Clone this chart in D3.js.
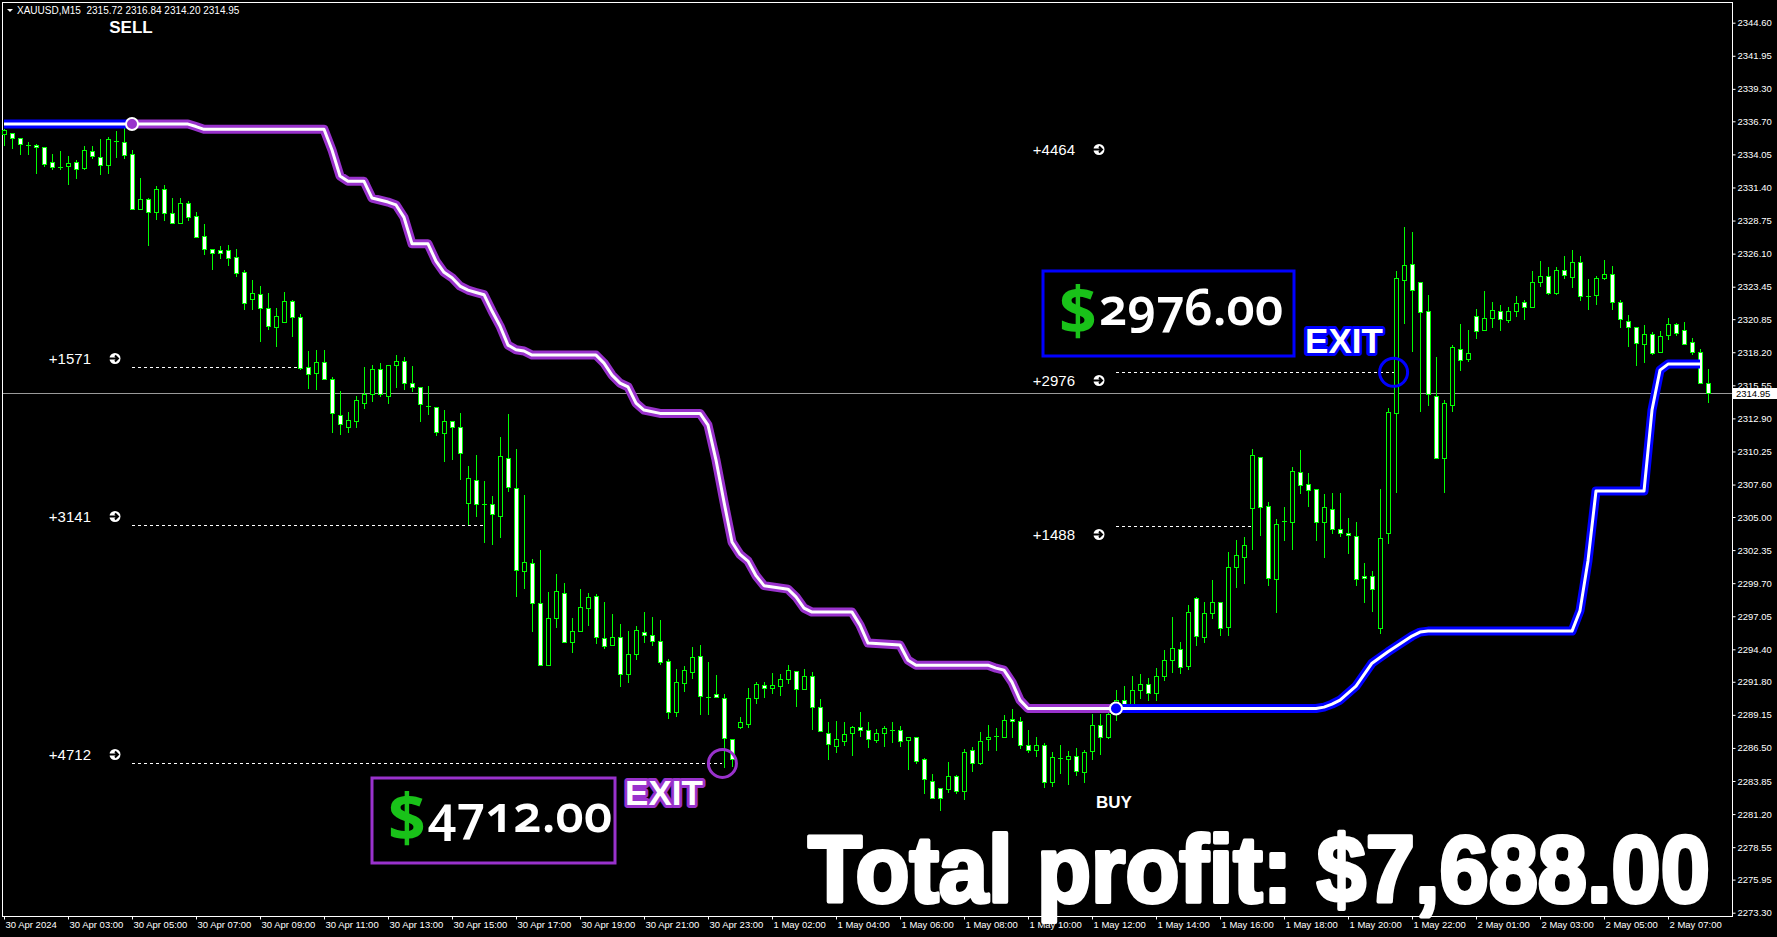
<!DOCTYPE html>
<html>
<head>
<meta charset="utf-8">
<script src="https://cdn.jsdelivr.net/npm/d3@7"></script>
<style>
  html, body { margin: 0; padding: 0; background: #000; overflow: hidden; }
  svg { display: block; }
  text { font-family: "Liberation Sans", Arial, sans-serif; }
</style>
</head>
<body>
<div id="chart"></div>
<script>
// XAUUSD M15 candles, 30 Apr 01:00 -> 2 May 08:15
var opens = [2335.66,2335.74,2335.34,2334.80,2334.80,2334.62,2333.42,2333.06,2333.12,2333.42,2332.93,2334.34,2333.86,2333.20,2335.15,2335.02,2334.06,2329.65,2330.45,2329.46,2331.25,2329.33,2328.53,2330.13,2329.14,2327.53,2326.44,2326.36,2326.36,2325.85,2324.60,2322.44,2322.84,2321.72,2320.24,2320.64,2322.30,2320.99,2316.99,2316.51,2317.39,2316.03,2313.17,2312.23,2312.71,2314.10,2314.82,2316.83,2314.71,2317.15,2317.47,2315.71,2315.43,2313.91,2313.83,2311.70,2312.69,2312.18,2306.09,2307.93,2306.01,2306.01,2305.10,2309.70,2307.29,2300.64,2301.28,2298.08,2293.11,2296.88,2298.88,2294.95,2295.83,2297.68,2298.69,2295.27,2294.71,2295.35,2292.39,2293.99,2295.80,2295.51,2295.03,2293.43,2289.37,2291.67,2292.60,2293.83,2290.59,2290.86,2290.54,2287.18,2288.14,2288.38,2290.54,2291.51,2291.27,2291.47,2291.99,2292.68,2291.23,2292.23,2289.74,2287.66,2286.67,2287.07,2287.66,2288.14,2287.90,2287.13,2287.66,2287.95,2287.90,2287.10,2287.34,2285.58,2283.89,2283.25,2283.22,2284.24,2283.06,2286.30,2285.26,2287.18,2287.42,2287.39,2288.78,2288.65,2286.70,2286.32,2286.70,2283.78,2285.71,2285.58,2285.82,2284.58,2286.22,2288.30,2287.39,2289.21,2290.33,2289.85,2291.13,2291.61,2290.89,2292.25,2293.53,2294.40,2293.10,2298.48,2295.40,2297.32,2298.16,2296.15,2300.96,2301.81,2305.69,2309.78,2305.87,2300.00,2304.67,2304.62,2308.57,2307.61,2307.26,2304.57,2305.61,2304.01,2303.69,2303.47,2300.29,2300.29,2296.07,2303.73,2313.30,2323.96,2325.24,2323.85,2321.47,2314.71,2309.70,2313.94,2318.43,2317.63,2321.12,2319.95,2320.91,2321.47,2320.80,2321.47,2322.25,2321.79,2323.80,2324.33,2322.97,2324.76,2324.25,2325.40,2322.70,2322.81,2324.12,2324.44,2322.20,2320.67,2320.19,2318.88,2319.68,2318.19,2319.55,2320.43,2319.95,2318.99,2318.19,2315.72];
var highs = [2336.08,2335.74,2335.34,2335.07,2334.86,2334.62,2334.06,2334.32,2333.92,2333.60,2334.72,2334.72,2335.26,2335.47,2335.92,2336.14,2334.40,2332.13,2330.53,2331.52,2331.57,2330.53,2330.53,2330.31,2329.41,2328.45,2326.44,2326.71,2326.79,2326.44,2324.78,2323.98,2323.50,2322.97,2321.74,2323.02,2322.38,2321.26,2318.32,2318.37,2318.37,2316.24,2315.09,2313.38,2314.69,2316.99,2317.17,2317.31,2317.15,2317.97,2317.79,2317.09,2315.43,2315.49,2313.83,2313.57,2312.69,2313.30,2309.08,2309.94,2307.88,2306.68,2311.40,2313.25,2310.44,2306.75,2301.63,2302.35,2298.98,2300.43,2299.70,2296.90,2299.22,2298.88,2298.82,2298.18,2297.22,2296.42,2295.86,2296.26,2297.38,2296.98,2296.74,2293.61,2292.81,2293.05,2294.58,2294.74,2293.37,2292.33,2290.81,2287.18,2288.99,2291.27,2291.75,2291.75,2292.47,2292.41,2293.13,2292.68,2292.79,2292.55,2290.39,2288.59,2288.65,2288.57,2288.24,2289.34,2288.57,2288.00,2288.24,2288.57,2288.24,2287.34,2287.34,2285.71,2284.40,2283.25,2285.34,2284.32,2286.38,2286.56,2287.74,2288.30,2288.06,2289.10,2289.58,2288.94,2287.90,2287.34,2286.86,2286.16,2286.70,2286.22,2286.48,2286.30,2289.21,2289.18,2289.53,2291.13,2291.45,2292.25,2292.41,2292.09,2292.89,2294.33,2297.00,2295.00,2297.94,2298.61,2298.20,2299.94,2298.20,2302.17,2303.15,2303.41,2310.42,2309.78,2306.22,2304.81,2305.77,2309.02,2310.36,2308.49,2307.26,2306.83,2306.89,2306.89,2304.89,2304.62,2301.28,2300.66,2307.21,2313.70,2324.73,2328.26,2327.81,2323.85,2322.78,2317.84,2314.37,2318.78,2320.46,2319.98,2321.66,2323.10,2322.20,2321.98,2321.79,2322.70,2322.38,2324.70,2325.51,2325.03,2325.03,2325.90,2326.39,2325.90,2324.06,2324.30,2325.56,2325.10,2322.38,2321.15,2320.19,2320.40,2319.82,2319.87,2320.91,2320.51,2320.62,2319.31,2318.43,2316.84];
var lows = [2334.80,2334.54,2334.06,2334.06,2332.58,2333.12,2332.85,2332.85,2331.65,2332.18,2332.85,2333.78,2332.45,2332.58,2333.86,2333.78,2329.65,2329.65,2326.79,2328.87,2328.79,2328.53,2328.53,2328.79,2327.45,2326.07,2324.86,2325.72,2325.19,2324.33,2321.66,2321.66,2319.12,2320.03,2318.72,2320.64,2319.52,2316.85,2315.35,2315.27,2316.07,2311.80,2311.64,2311.80,2312.23,2313.75,2314.31,2314.69,2314.15,2315.43,2315.25,2315.09,2312.69,2313.25,2311.56,2309.50,2309.64,2308.06,2304.43,2305.07,2303.01,2302.85,2303.41,2307.10,2298.69,2299.33,2295.88,2293.11,2293.11,2296.15,2294.95,2294.20,2295.83,2296.36,2294.87,2294.47,2294.71,2291.47,2291.80,2293.64,2295.00,2294.71,2293.19,2288.89,2289.05,2291.07,2292.07,2289.21,2289.21,2290.59,2284.98,2285.06,2288.06,2288.14,2290.06,2290.59,2290.91,2290.73,2291.67,2289.87,2291.23,2288.00,2287.82,2285.60,2286.18,2286.72,2285.92,2287.44,2286.58,2286.99,2286.67,2286.99,2286.67,2284.80,2285.26,2282.88,2282.45,2281.54,2282.98,2282.88,2282.39,2284.66,2285.20,2286.35,2286.32,2287.39,2287.39,2286.51,2286.18,2285.86,2283.36,2283.46,2284.50,2283.60,2284.32,2283.78,2285.60,2285.98,2287.28,2288.73,2289.37,2289.37,2290.49,2290.33,2290.33,2291.93,2292.57,2292.50,2292.80,2294.74,2294.98,2296.92,2295.54,2295.54,2299.41,2299.68,2302.43,2303.55,2299.54,2297.40,2303.15,2302.43,2306.89,2305.90,2303.15,2301.81,2303.69,2303.47,2302.13,2299.54,2298.20,2297.49,2295.72,2302.89,2307.02,2320.56,2318.32,2313.51,2313.96,2309.70,2306.97,2313.51,2316.80,2317.52,2319.36,2319.95,2320.21,2320.00,2320.64,2321.12,2320.88,2321.79,2323.53,2322.86,2322.89,2324.17,2323.45,2322.40,2321.68,2322.08,2324.04,2321.68,2320.24,2318.72,2317.20,2317.44,2318.05,2318.19,2319.23,2319.58,2318.83,2318.03,2315.71,2314.20];
var closes = [2336.00,2335.34,2334.86,2334.80,2334.62,2333.25,2333.01,2333.06,2333.33,2332.85,2334.40,2333.92,2333.20,2335.26,2335.15,2334.00,2329.65,2330.45,2329.41,2331.25,2329.33,2328.53,2330.13,2329.06,2327.45,2326.44,2326.12,2326.17,2325.77,2324.57,2322.16,2322.92,2321.72,2320.32,2321.10,2322.30,2320.99,2316.96,2316.43,2317.39,2316.07,2313.30,2312.42,2312.77,2314.34,2314.85,2316.83,2314.82,2317.15,2317.47,2315.71,2315.43,2314.02,2313.91,2311.78,2312.69,2312.18,2310.10,2308.09,2306.01,2306.01,2305.21,2309.86,2307.37,2300.72,2301.36,2298.08,2293.11,2296.88,2299.04,2294.95,2295.83,2297.76,2298.56,2295.38,2294.66,2295.35,2292.39,2293.99,2295.91,2295.51,2295.05,2293.37,2289.37,2291.77,2292.71,2293.75,2290.67,2290.59,2290.59,2287.26,2285.58,2288.54,2290.54,2291.59,2291.27,2291.51,2291.99,2292.71,2291.19,2292.23,2289.79,2287.82,2286.78,2287.20,2287.58,2288.14,2287.90,2287.18,2287.66,2288.08,2287.95,2287.07,2287.34,2285.46,2284.02,2282.45,2282.45,2284.24,2283.06,2286.14,2285.31,2287.04,2287.34,2287.42,2288.73,2288.62,2286.75,2286.35,2286.70,2283.78,2285.76,2285.71,2285.82,2284.66,2286.14,2288.30,2287.34,2289.21,2290.33,2289.85,2291.13,2291.61,2290.89,2292.25,2293.53,2294.49,2293.00,2297.36,2295.46,2297.28,2298.16,2296.07,2301.01,2301.92,2302.72,2309.94,2305.77,2300.08,2304.43,2304.67,2308.68,2307.53,2307.13,2304.57,2305.77,2304.01,2303.69,2303.53,2300.00,2300.08,2299.20,2303.33,2313.38,2324.12,2325.16,2323.16,2321.39,2314.85,2309.70,2314.10,2318.64,2317.55,2318.11,2319.87,2320.91,2321.55,2320.83,2321.47,2322.12,2321.79,2323.80,2324.28,2322.92,2324.76,2324.36,2325.40,2322.73,2322.70,2324.12,2324.44,2322.20,2320.88,2320.19,2318.91,2319.63,2318.11,2319.47,2320.43,2319.71,2318.83,2318.19,2315.71,2314.95];

// time axis labels, one every 8 bars
var timeLabels = ["30 Apr 2024","30 Apr 03:00","30 Apr 05:00","30 Apr 07:00","30 Apr 09:00","30 Apr 11:00","30 Apr 13:00","30 Apr 15:00","30 Apr 17:00","30 Apr 19:00","30 Apr 21:00","30 Apr 23:00","1 May 02:00","1 May 04:00","1 May 06:00","1 May 08:00","1 May 10:00","1 May 12:00","1 May 14:00","1 May 16:00","1 May 18:00","1 May 20:00","1 May 22:00","2 May 01:00","2 May 03:00","2 May 05:00","2 May 07:00"];

// price scale labels
var priceTicks = [2344.60,2341.95,2339.30,2336.70,2334.05,2331.40,2328.75,2326.10,2323.45,2320.85,2318.20,2315.55,2312.90,2310.25,2307.60,2305.00,2302.35,2299.70,2297.05,2294.40,2291.80,2289.15,2286.50,2283.85,2281.20,2278.55,2275.95,2273.30];

// trailing stop line (bar index, price)
var prevStopBars = [0, 16];
var prevStopPrices = [2336.48, 2336.48];
var sellStopBars = [16,23,24,25,40,41,42,43,45,46,48,49,50,51,53,54,55,56,57,58,59,60,61,62,63,64,65,66,74,75,76,77,78,79,80,82,87,88,89,90,91,92,93,94,95,98,99,100,101,106,107,108,112,113,114,123,124,125,126,127,128,139];
var sellStopPrices = [2336.48,2336.48,2336.28,2336.06,2336.06,2334.40,2332.32,2331.89,2331.89,2330.55,2330.23,2330.00,2329.00,2326.89,2326.89,2325.50,2324.60,2324.17,2323.50,2323.18,2322.99,2322.81,2321.50,2320.30,2318.77,2318.40,2318.30,2317.97,2317.97,2317.33,2316.37,2315.73,2315.43,2314.13,2313.57,2313.30,2313.30,2312.36,2309.56,2306.20,2303.00,2302.00,2301.47,2300.30,2299.50,2299.22,2298.60,2297.70,2297.38,2297.38,2296.34,2294.90,2294.74,2293.53,2293.13,2293.13,2292.89,2292.73,2291.77,2290.33,2289.66,2289.66];
var buyStopBars = [139,164,165,166,167,169,171,173,175,176,177,178,196,197,198,199,205,206,207,208,212];
var buyStopPrices = [2289.66,2289.66,2289.77,2290.01,2290.33,2291.45,2293.29,2294.20,2295.05,2295.46,2295.78,2295.86,2295.86,2297.50,2301.50,2307.08,2307.08,2313.57,2316.77,2317.25,2317.25];

// trades
var tradeSides = ["SELL", "BUY"];
var entryBars = [16, 139];
var entryPrices = [2336.48, 2289.66];
var exitBars = [89.8, 173.7];
var exitPrices = [2285.26, 2316.59];
var tradeProfits = [4712.00, 2976.00];

// profit levels drawn from each entry
var levelTrade = [0, 0, 0, 1, 1, 1];
var levelLabels = ["+1571", "+3141", "+4712", "+1488", "+2976", "+4464"];
var levelPrices = [2316.99, 2304.33, 2285.26, 2304.27, 2316.59, 2335.16];
var levelEndBars = [37, 60, 89.8, 156, 173.7, null];

var symbolName = "XAUUSD,M15";

var svgWidth = 1777;
var svgHeight = 937;
var plot = { left: 2, top: 2, right: 1732, bottom: 916 };

var purple = "#9932cc";
var blue = "#0000ff";
var lime = "#00ff00";
var money = "#19c219";

var svg = d3.select("#chart")
  .append("svg")
  .attr("width", svgWidth)
  .attr("height", svgHeight)
  .style("background", "#000");

var n = closes.length;

var xScale = d3.scaleLinear()
  .domain([0, n - 1])
  .range([4, 4 + 8 * (n - 1)]);

var yScale = d3.scaleLinear()
  .domain([2273.30, 2344.60])
  .range([912.7, 22.7]);

// frame
svg.append("rect")
  .attr("x", plot.left + 0.5)
  .attr("y", plot.top + 0.5)
  .attr("width", plot.right - plot.left)
  .attr("height", plot.bottom - plot.top)
  .attr("fill", "none")
  .attr("stroke", "#fff")
  .attr("shape-rendering", "crispEdges");

// price axis
var rightAxis = d3.axisRight(yScale)
  .tickValues(priceTicks)
  .tickFormat(d => d.toFixed(2))
  .tickSize(3)
  .tickPadding(2);

var yAxisG = svg.append("g")
  .attr("transform", `translate(${plot.right + 0.5},0)`)
  .call(rightAxis);
yAxisG.select(".domain").remove();
yAxisG.selectAll("line").attr("stroke", "#fff");
yAxisG.selectAll("text")
  .attr("fill", "#fff")
  .style("font-size", "9.5px")
  .style("font-family", "'Liberation Sans', Arial, sans-serif");

// time axis
var timeBars = timeLabels.map((d, i) => i * 8);
var bottomAxis = d3.axisBottom(xScale)
  .tickValues(timeBars)
  .tickFormat(d => timeLabels[d / 8])
  .tickSize(3)
  .tickPadding(2);

var xAxisG = svg.append("g")
  .attr("transform", `translate(0,${plot.bottom + 0.5})`)
  .call(bottomAxis);
xAxisG.select(".domain").remove();
xAxisG.selectAll("line").attr("stroke", "#fff");
xAxisG.selectAll("text")
  .attr("fill", "#fff")
  .attr("text-anchor", "start")
  .attr("x", 1)
  .style("font-size", "9.5px")
  .style("font-family", "'Liberation Sans', Arial, sans-serif");

// header
svg.append("path")
  .attr("d", "M7,9 L13,9 L10,12 Z")
  .attr("fill", "#fff");
svg.append("text")
  .attr("x", 17)
  .attr("y", 14)
  .attr("fill", "#fff")
  .style("font-size", "10px")
  .style("white-space", "pre")
  .text(symbolName + "  " + [opens[n - 1], highs[n - 1], lows[n - 1], closes[n - 1]].map(v => v.toFixed(2)).join(" "));

// current price line
var lastY = Math.round(yScale(closes[n - 1])) + 0.5;
svg.append("line")
  .attr("x1", plot.left + 1)
  .attr("x2", plot.right)
  .attr("y1", lastY)
  .attr("y2", lastY)
  .attr("stroke", "#9a9a9a")
  .attr("shape-rendering", "crispEdges");

// candles
var candleG = svg.append("g").attr("shape-rendering", "crispEdges");
d3.range(n).forEach(function(i) {
  var cx = Math.round(xScale(i));
  var o = opens[i], c = closes[i];
  candleG.append("line")
    .attr("x1", cx + 0.5).attr("x2", cx + 0.5)
    .attr("y1", Math.round(yScale(highs[i])))
    .attr("y2", Math.round(yScale(lows[i])) + 1)
    .attr("stroke", lime);
  var yTop = Math.round(yScale(Math.max(o, c)));
  var yBot = Math.round(yScale(Math.min(o, c)));
  if (yBot - yTop < 1) {
    candleG.append("line")
      .attr("x1", cx - 2).attr("x2", cx + 3)
      .attr("y1", yTop + 0.5).attr("y2", yTop + 0.5)
      .attr("stroke", lime);
  } else {
    candleG.append("rect")
      .attr("x", cx - 1.5)
      .attr("y", yTop + 0.5)
      .attr("width", 4)
      .attr("height", yBot - yTop)
      .attr("fill", c < o ? "#fff" : "#000")
      .attr("stroke", lime);
  }
});

// trailing stop line: wide coloured stroke with a white core
var stopLine = d3.line()
  .x(d => xScale(d[0]))
  .y(d => yScale(d[1]));

function drawStop(bars, prices, color) {
  var pts = bars.map((b, i) => [b, prices[i]]);
  svg.append("path")
    .attr("d", stopLine(pts))
    .attr("fill", "none")
    .attr("stroke", color)
    .attr("stroke-width", 9)
    .attr("stroke-linejoin", "round");
  svg.append("path")
    .attr("d", stopLine(pts))
    .attr("fill", "none")
    .attr("stroke", "#fff")
    .attr("stroke-width", 3)
    .attr("stroke-linejoin", "round");
}
drawStop(prevStopBars, prevStopPrices, blue);
drawStop(sellStopBars, sellStopPrices, purple);
drawStop(buyStopBars, buyStopPrices, blue);

// profit levels
levelLabels.forEach(function(label, i) {
  var t = levelTrade[i];
  var ex = xScale(entryBars[t]);
  var ly = Math.round(yScale(levelPrices[i])) + 0.5;
  var textY = tradeSides[t] === "SELL" ? ly - 9 : ly + 8;
  if (levelEndBars[i] !== null) {
    svg.append("line")
      .attr("x1", ex).attr("x2", xScale(levelEndBars[i]))
      .attr("y1", ly).attr("y2", ly)
      .attr("stroke", "#fff")
      .attr("stroke-dasharray", "3,3")
      .attr("shape-rendering", "crispEdges");
  }
  svg.append("text")
    .attr("x", ex - 41)
    .attr("y", textY + 5)
    .attr("text-anchor", "end")
    .attr("fill", "#fff")
    .style("font-size", "15px")
    .text(label);
  svg.append("circle")
    .attr("cx", ex - 17).attr("cy", textY)
    .attr("r", 5.5)
    .attr("fill", "#fff");
  svg.append("path")
    .attr("d", `M${ex - 24},${textY} L${ex - 15},${textY} M${ex - 17},${textY - 3} L${ex - 14},${textY} L${ex - 17},${textY + 3}`)
    .attr("stroke", "#000")
    .attr("stroke-width", 2)
    .attr("fill", "none");
});

// entry / exit markers
var tradeColors = [purple, blue];
tradeSides.forEach(function(side, t) {
  svg.append("circle")
    .attr("cx", xScale(exitBars[t]))
    .attr("cy", yScale(exitPrices[t]))
    .attr("r", 14)
    .attr("fill", "none")
    .attr("stroke", tradeColors[t])
    .attr("stroke-width", 3);
  svg.append("circle")
    .attr("cx", xScale(entryBars[t]))
    .attr("cy", yScale(entryPrices[t]))
    .attr("r", 6)
    .attr("fill", tradeColors[t])
    .attr("stroke", "#fff")
    .attr("stroke-width", 2);
});

// SELL / BUY tags
svg.append("text")
  .attr("x", xScale(entryBars[0]) - 1)
  .attr("y", 33)
  .attr("text-anchor", "middle")
  .attr("fill", "#fff")
  .style("font-size", "17px")
  .style("font-weight", "bold")
  .text("SELL");
svg.append("text")
  .attr("x", xScale(entryBars[1]) - 2)
  .attr("y", 808)
  .attr("text-anchor", "middle")
  .attr("fill", "#fff")
  .style("font-size", "17px")
  .style("font-weight", "bold")
  .text("BUY");

// EXIT labels
var exitLabelPos = [[664, 805], [1344, 353]];
exitLabelPos.forEach(function(p, t) {
  svg.append("text")
    .attr("x", p[0])
    .attr("y", p[1])
    .attr("text-anchor", "middle")
    .attr("fill", "#fff")
    .attr("stroke", tradeColors[t])
    .attr("stroke-width", 6)
    .attr("stroke-linejoin", "round")
    .style("paint-order", "stroke")
    .style("font-size", "35px")
    .style("font-weight", "bold")
    .text("EXIT");
});

// profit boxes
var boxPos = [[372, 778, 243, 85], [1043, 271, 251, 85]];
tradeProfits.forEach(function(v, t) {
  var b = boxPos[t];
  svg.append("rect")
    .attr("x", b[0]).attr("y", b[1])
    .attr("width", b[2]).attr("height", b[3])
    .attr("fill", "none")
    .attr("stroke", tradeColors[t])
    .attr("stroke-width", 3);
  svg.append("text")
    .attr("x", b[0] + 16)
    .attr("y", b[1] + 64)
    .attr("fill", money)
    .style("font-family", "'Open Sans', 'Noto Sans', sans-serif")
    .style("font-weight", "bold")
    .style("font-size", "66px")
    .text("$");
  svg.append("text")
    .attr("x", b[0] + 56)
    .attr("y", b[1] + 54)
    .attr("fill", "#fff")
    .style("font-family", "'Noto Sans', 'Open Sans', sans-serif")
    .style("font-weight", "600")
    .style("font-size", "50px")
    .style("font-variant-numeric", "oldstyle-nums")
    .text(v.toFixed(2));
});

// total, squeezed horizontally to fit left of the price scale
var total = d3.sum(tradeProfits);
svg.append("text")
  .attr("transform", "translate(808,902) scale(0.94,1)")
  .attr("fill", "#fff")
  .attr("stroke", "#fff")
  .attr("stroke-width", 4)
  .attr("stroke-linejoin", "round")
  .style("font-size", "94px")
  .style("font-weight", "bold")
  .text("Total profit: $" + d3.format(",.2f")(total));

// last price tag
svg.append("rect")
  .attr("x", plot.right + 1)
  .attr("y", lastY - 5.5)
  .attr("width", 44)
  .attr("height", 11)
  .attr("fill", "#fff");
svg.append("text")
  .attr("x", plot.right + 4)
  .attr("y", lastY + 3.5)
  .attr("fill", "#000")
  .style("font-size", "9.5px")
  .text(closes[n - 1].toFixed(2));
</script>
</body>
</html>
